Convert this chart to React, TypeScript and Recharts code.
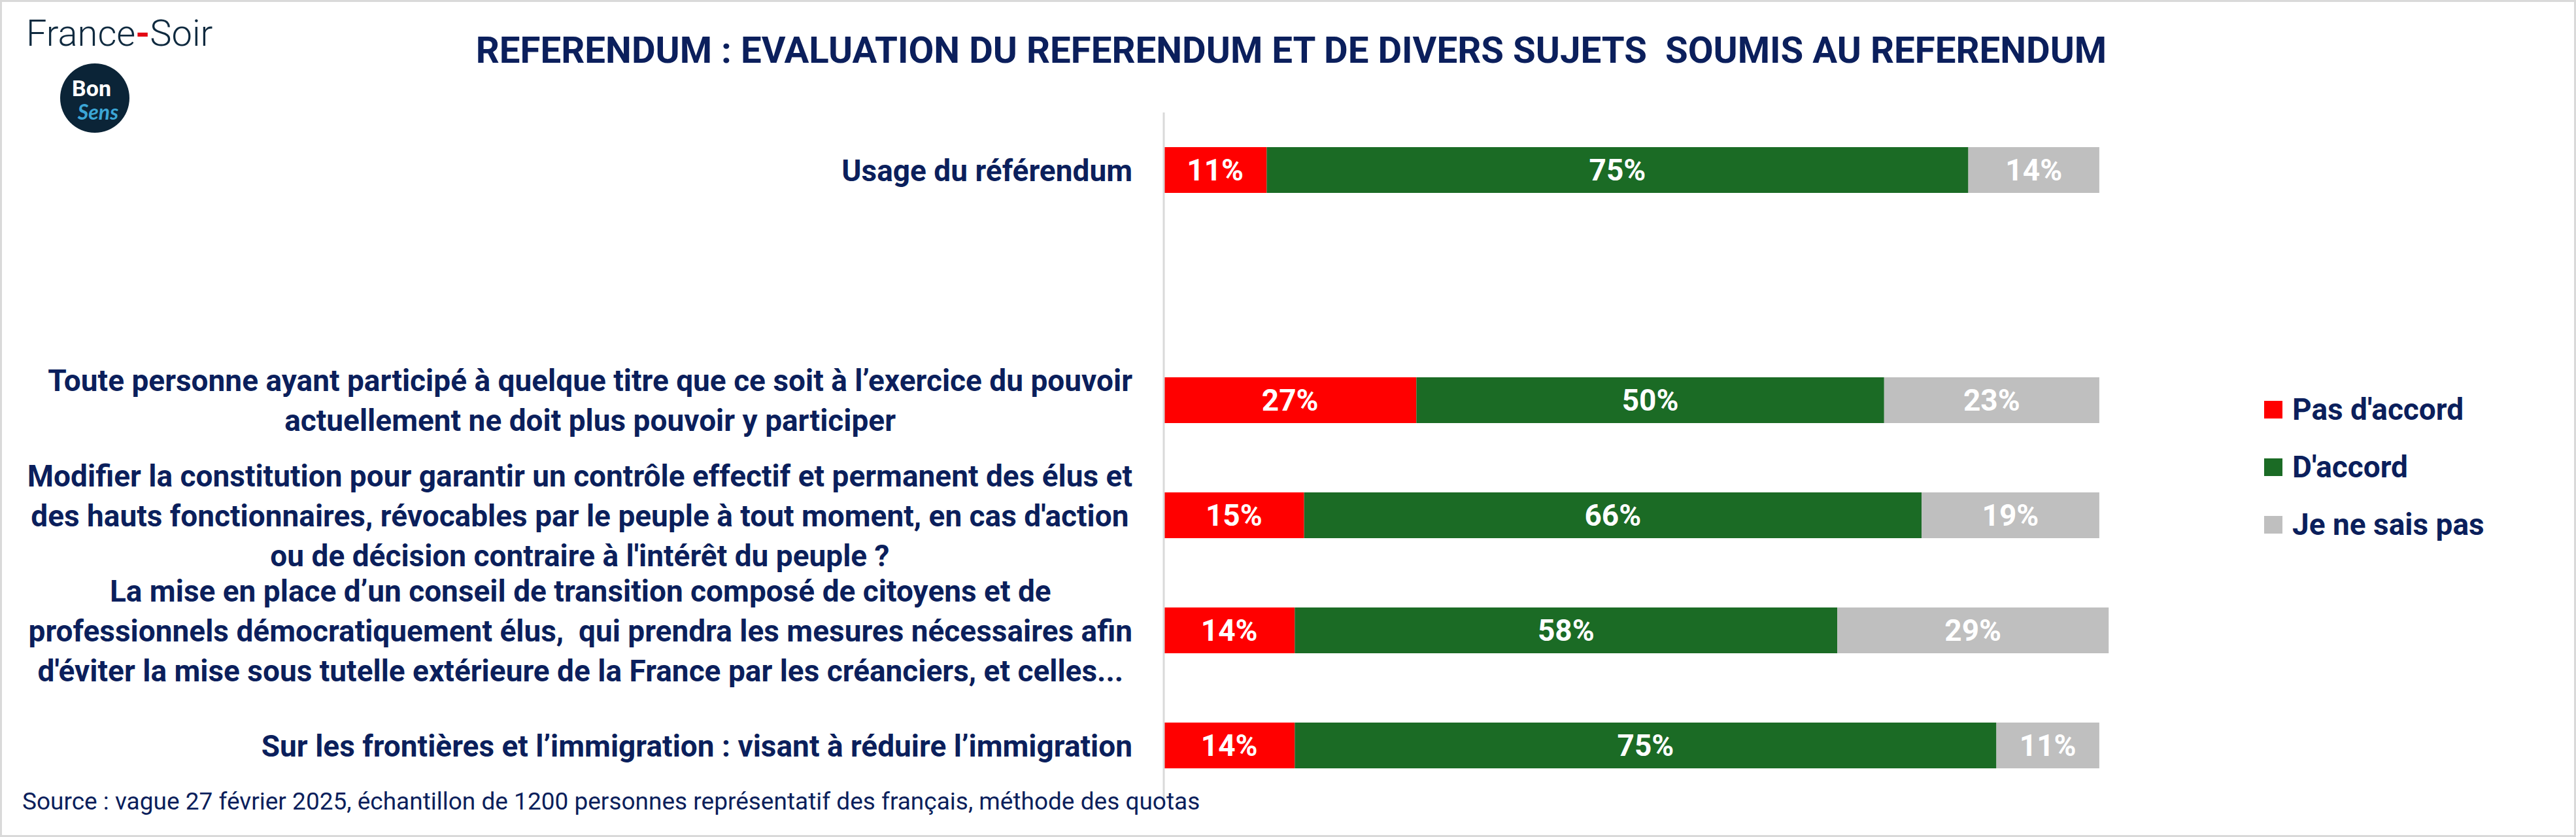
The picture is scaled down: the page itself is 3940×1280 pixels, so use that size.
import React from "react";
import { BarChart, Bar, XAxis, YAxis, LabelList } from "recharts";

// question labels, one entry per line as shown in the chart
const questions: string[][] = [
  ["Usage du référendum"],
  [""],
  [
    "Toute personne ayant participé à quelque titre que ce soit à l’exercice du pouvoir",
    "actuellement ne doit plus pouvoir y participer",
  ],
  [
    "Modifier la constitution pour garantir un contrôle effectif et permanent des élus et",
    "des hauts fonctionnaires, révocables par le peuple à tout moment, en cas d'action",
    "ou de décision contraire à l'intérêt du peuple ?",
  ],
  [
    "La mise en place d’un conseil de transition composé de citoyens et de",
    "professionnels démocratiquement élus,  qui prendra les mesures nécessaires afin",
    "d'éviter la mise sous tutelle extérieure de la France par les créanciers, et celles...",
  ],
  ["Sur les frontières et l’immigration : visant à réduire l’immigration"],
];
const categories = questions.map((q) => q.join(" "));

const pasDaccord = [11, null, 27, 15, 14, 14];
const daccord = [75, null, 50, 66, 58, 75];
const neSaisPas = [14, null, 23, 19, 29, 11];

const seriesNames = ["Pas d'accord", "D'accord", "Je ne sais pas"];
const seriesKeys = ["pas", "oui", "nsp"];
const colors = ["#FF0000", "#1B6B25", "#BFBFBF"];

const title =
  "REFERENDUM : EVALUATION DU REFERENDUM ET DE DIVERS SUJETS  SOUMIS AU REFERENDUM";
const source =
  "Source : vague 27 février 2025, échantillon de 1200 personnes représentatif des français, méthode des quotas";

const NAVY = "#0B1F5C";
const FONT = "Roboto, 'Liberation Sans', sans-serif";
const LABEL_SIZE = 46;

const data = categories.map((c, i) => ({
  name: c,
  pas: pasDaccord[i],
  oui: daccord[i],
  nsp: neSaisPas[i],
}));

let ctx: CanvasRenderingContext2D | null = null;
function textWidth(s: string) {
  if (!ctx) ctx = document.createElement("canvas").getContext("2d");
  if (!ctx) return s.length * 22;
  ctx.font = `700 ${LABEL_SIZE}px Roboto`;
  return ctx.measureText(s).width;
}

function QuestionTick(props: any) {
  const { x, y, payload } = props;
  const idx = categories.indexOf(payload.value);
  const lines = idx >= 0 ? questions[idx] : [String(payload.value)];
  const blockW = Math.max(...lines.map(textWidth));
  const cx = x - 48 - blockW / 2;
  const n = lines.length;
  return (
    <g>
      {lines.map((l, i) => (
        <text
          key={i}
          x={cx}
          y={y + (i - (n - 1) / 2) * 61}
          dy="0.36em"
          textAnchor="middle"
          fill={NAVY}
          fontFamily={FONT}
          fontWeight={700}
          fontSize={LABEL_SIZE}
          style={{ whiteSpace: "pre" }}
        >
          {l}
        </text>
      ))}
    </g>
  );
}

const pct = (v: any) => (v == null ? "" : `${v}%`);

export default function App() {
  return (
    <div
      style={{
        position: "absolute",
        left: 0,
        top: 0,
        width: 3940,
        height: 1280,
        background: "#fff",
        fontFamily: FONT,
        overflow: "hidden",
      }}
    >
      <div
        style={{
          position: "absolute",
          left: 40,
          top: 23,
          fontSize: 56,
          lineHeight: "56px",
          fontWeight: 300,
          color: "#0F2A3F",
        }}
      >
        France<span style={{ color: "#E30613", fontWeight: 700 }}>-</span>Soir
      </div>
      <svg
        width={110}
        height={110}
        style={{ position: "absolute", left: 90, top: 95 }}
      >
        <circle cx={55} cy={55} r={53} fill="#0B2437" />
        <text
          x={50}
          y={52}
          textAnchor="middle"
          fill="#fff"
          fontFamily={FONT}
          fontWeight={700}
          fontSize={34}
        >
          Bon
        </text>
        <text
          x={60}
          y={88}
          textAnchor="middle"
          fill="#3BA6D6"
          fontFamily="Lato, sans-serif"
          fontStyle="italic"
          fontWeight={700}
          fontSize={32}
        >
          Sens
        </text>
      </svg>

      <div
        style={{
          position: "absolute",
          left: 475,
          width: 3000,
          top: 49,
          textAlign: "center",
          fontSize: 56.4,
          lineHeight: "56px",
          fontWeight: 700,
          color: NAVY,
          whiteSpace: "pre",
        }}
      >
        {title}
      </div>

      <div style={{ position: "absolute", left: 0, top: 0 }}>
        <BarChart
          width={3940}
          height={1280}
          data={data}
          layout="vertical"
          margin={{ top: 172, right: 586, bottom: 52, left: 0 }}
        >
          <XAxis type="number" domain={[0, 110]} hide />
          <YAxis
            type="category"
            dataKey="name"
            width={1780}
            interval={0}
            tickLine={false}
            tickSize={0}
            tickMargin={0}
            axisLine={{ stroke: "#D9D9D9", strokeWidth: 3 }}
            tick={<QuestionTick />}
          />
          {seriesKeys.map((k, i) => (
            <Bar
              key={k}
              dataKey={k}
              name={seriesNames[i]}
              stackId="a"
              fill={colors[i]}
              barSize={70}
              isAnimationActive={false}
            >
              <LabelList
                dataKey={k}
                position="center"
                formatter={pct}
                fill="#fff"
                fontFamily={FONT}
                fontWeight={700}
                fontSize={LABEL_SIZE}
              />
            </Bar>
          ))}
        </BarChart>
      </div>

      <div style={{ position: "absolute", left: 3463, top: 582 }}>
        {seriesNames.map((n, i) => (
          <div
            key={n}
            style={{ display: "flex", alignItems: "center", height: 88 }}
          >
            <span
              style={{
                display: "inline-block",
                width: 28,
                height: 27,
                background: colors[i],
                marginRight: 15,
              }}
            />
            <span
              style={{
                fontSize: LABEL_SIZE,
                fontWeight: 700,
                color: NAVY,
                lineHeight: "54px",
              }}
            >
              {n}
            </span>
          </div>
        ))}
      </div>

      <div
        style={{
          position: "absolute",
          left: 34,
          top: 1208,
          fontSize: 37,
          lineHeight: "36px",
          color: NAVY,
          whiteSpace: "nowrap",
        }}
      >
        {source}
      </div>

      <div
        style={{
          position: "absolute",
          left: 0,
          top: 0,
          width: 3940,
          height: 1280,
          border: "3px solid #D9D9D9",
          boxSizing: "border-box",
          pointerEvents: "none",
        }}
      />
    </div>
  );
}
